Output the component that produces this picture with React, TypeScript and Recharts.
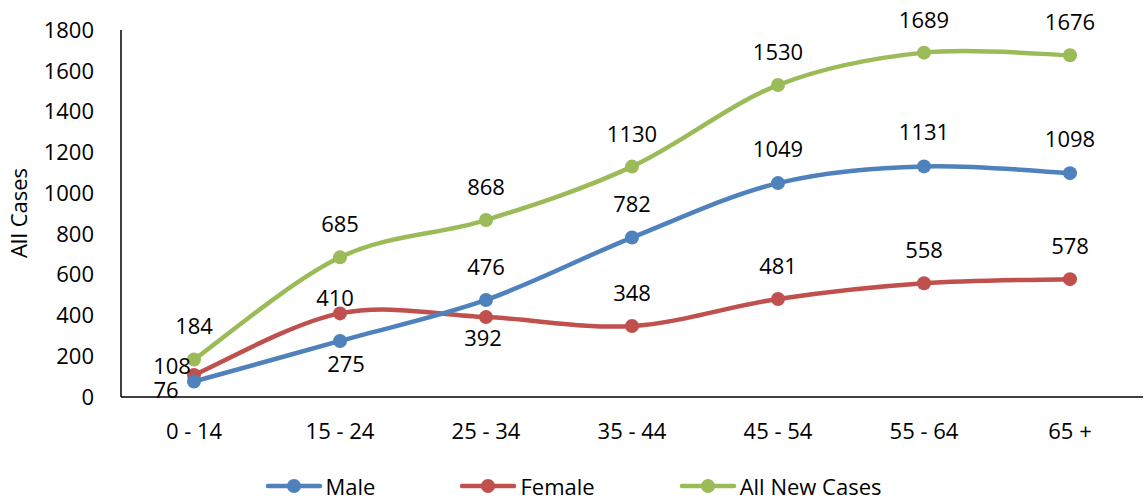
import React from 'react';
import { LineChart, Line, XAxis, YAxis, LabelList } from 'recharts';

const ageGroups = ['0 - 14', '15 - 24', '25 - 34', '35 - 44', '45 - 54', '55 - 64', '65 +'];
const maleCases = [76, 275, 476, 782, 1049, 1131, 1098];
const femaleCases = [108, 410, 392, 348, 481, 558, 578];
const allNewCases = [184, 685, 868, 1130, 1530, 1689, 1676];
const yTicks = [0, 200, 400, 600, 800, 1000, 1200, 1400, 1600, 1800];

const FONT = '"Open Sans", sans-serif';
const BLUE = '#4F81BD';
const RED = '#C0504D';
const GREEN = '#9BBB59';

// label nudges (dx, dy) relative to the point, like the manual placement in the original
const maleLabelShift = [[-28, 8], [6, 23], [0, -33], [0, -34], [0, -34], [0, -34], [0, -34]];
const femaleLabelShift = [[-22, -9], [-5, -15], [-3, 21], [0, -33], [0, -33], [0, -33], [0, -33]];
const allLabelShift = ageGroups.map(() => [0, -33]);

const data = ageGroups.map((group, i) => ({
  group,
  male: maleCases[i],
  female: femaleCases[i],
  all: allNewCases[i],
}));

// Excel-like smoothing: Catmull-Rom as cubic beziers
function excelSmooth(context: any) {
  let pts: number[][] = [];
  return {
    areaStart() {},
    areaEnd() {},
    lineStart() {
      pts = [];
    },
    point(x: number, y: number) {
      pts.push([+x, +y]);
    },
    lineEnd() {
      const n = pts.length;
      if (!n) return;
      context.moveTo(pts[0][0], pts[0][1]);
      for (let i = 0; i < n - 1; i++) {
        const p0 = pts[Math.max(i - 1, 0)];
        const p1 = pts[i];
        const p2 = pts[i + 1];
        const p3 = pts[Math.min(i + 2, n - 1)];
        context.bezierCurveTo(
          p1[0] + (p2[0] - p0[0]) / 6,
          p1[1] + (p2[1] - p0[1]) / 6,
          p2[0] - (p3[0] - p1[0]) / 6,
          p2[1] - (p3[1] - p1[1]) / 6,
          p2[0],
          p2[1]
        );
      }
    },
  };
}

const makeLabel = (shift: number[][]) => (props: any) => {
  const { x, y, value, index } = props;
  const [dx, dy] = shift[index] ?? [0, -33];
  return (
    <text
      x={x + dx}
      y={y + dy + 8}
      textAnchor="middle"
      fill="#000"
      style={{ fontFamily: FONT, fontSize: 22 }}
    >
      {value}
    </text>
  );
};

const legendItems = [
  { name: 'Male', color: BLUE },
  { name: 'Female', color: RED },
  { name: 'All New Cases', color: GREEN },
];

export default function App() {
  const tickStyle = { fill: '#000', fontSize: 22, fontFamily: FONT };
  return (
    <div style={{ position: 'absolute', left: 0, top: 0, width: 1144, height: 499, background: '#fff', overflow: 'hidden' }}>
      <LineChart width={1144} height={499} data={data} margin={{ top: 30, right: 1, bottom: 72, left: 0 }}>
        <XAxis
          dataKey="group"
          height={30}
          padding={{ left: 73, right: 73 }}
          tick={tickStyle}
          tickLine={false}
          tickSize={0}
          tickMargin={26}
          axisLine={{ stroke: '#000', strokeWidth: 1.5 }}
        />
        <YAxis
          width={121}
          domain={[0, 1800]}
          ticks={yTicks}
          interval={0}
          tick={tickStyle}
          tickLine={false}
          tickSize={0}
          tickMargin={27}
          axisLine={{ stroke: '#000', strokeWidth: 1.5 }}
          label={() => (
            <text
              transform="translate(18,213) rotate(-90)"
              textAnchor="middle"
              dominantBaseline="central"
              style={{ fontFamily: FONT, fontSize: 22 }}
              fill="#000"
            >
              All Cases
            </text>
          )}
        />
        <Line
          dataKey="all"
          name="All New Cases"
          type={excelSmooth as any}
          stroke={GREEN}
          strokeWidth={4.5}
          dot={{ r: 7, fill: GREEN, stroke: GREEN, strokeWidth: 0 }}
          activeDot={false}
          isAnimationActive={false}
        >
          <LabelList dataKey="all" content={makeLabel(allLabelShift)} />
        </Line>
        <Line
          dataKey="female"
          name="Female"
          type={excelSmooth as any}
          stroke={RED}
          strokeWidth={4.5}
          dot={{ r: 7, fill: RED, stroke: RED, strokeWidth: 0 }}
          activeDot={false}
          isAnimationActive={false}
        >
          <LabelList dataKey="female" content={makeLabel(femaleLabelShift)} />
        </Line>
        <Line
          dataKey="male"
          name="Male"
          type={excelSmooth as any}
          stroke={BLUE}
          strokeWidth={4.5}
          dot={{ r: 7, fill: BLUE, stroke: BLUE, strokeWidth: 0 }}
          activeDot={false}
          isAnimationActive={false}
        >
          <LabelList dataKey="male" content={makeLabel(maleLabelShift)} />
        </Line>
      </LineChart>
      <div
        style={{
          position: 'absolute',
          left: 0,
          top: 475,
          width: 1144,
          paddingLeft: 2,
          boxSizing: 'border-box',
          display: 'flex',
          justifyContent: 'center',
          gap: 84,
          fontFamily: FONT,
          fontSize: 22,
          lineHeight: '22px',
        }}
      >
        {legendItems.map((item) => (
          <div key={item.name} style={{ display: 'flex', alignItems: 'center', height: 22 }}>
            <svg width={58} height={20} style={{ marginRight: 3 }}>
              <line x1={3} y1={10} x2={55} y2={10} stroke={item.color} strokeWidth={4.5} strokeLinecap="round" />
              <circle cx={29} cy={10} r={7} fill={item.color} />
            </svg>
            <span>{item.name}</span>
          </div>
        ))}
      </div>
    </div>
  );
}
